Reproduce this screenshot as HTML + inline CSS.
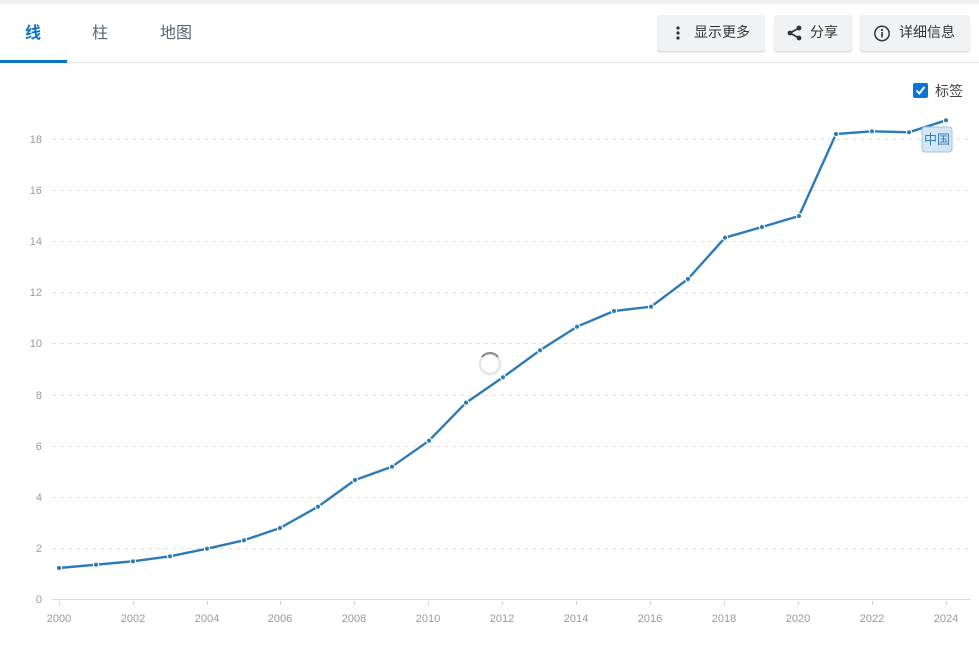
<!DOCTYPE html>
<html><head><meta charset="utf-8">
<style>
html,body{margin:0;padding:0;background:#fff;width:979px;height:658px;overflow:hidden;font-family:"Liberation Sans","Noto Sans CJK SC",sans-serif;}
.top{position:absolute;left:0;top:0;width:979px;height:4px;background:#eef0f3;}
.bar{position:absolute;left:0;top:4px;width:979px;height:58px;border-bottom:1px solid #e3e5e8;}
.tab{position:absolute;top:19px;font-size:16px;color:#5a6672;}
.ul{position:absolute;left:0;top:60px;width:67px;height:3px;background:#0b72c4;}
.btn{position:absolute;top:15px;height:36px;background:#f1f2f4;border-radius:3px;box-shadow:0 1.5px 1px #dcdee2;font-size:14px;color:#333;line-height:35px;}
.btn svg{position:absolute;top:10px;}
.cb{position:absolute;left:913px;top:83px;width:15px;height:15px;background:#0b74d4;border-radius:2px;}
</style></head><body>
<div class="top"></div>
<div class="bar"></div>
<div class="tab" style="left:25px;color:#0b72c4;font-weight:bold;">线</div>
<div class="tab" style="left:92px;">柱</div>
<div class="tab" style="left:160px;">地图</div>
<div class="ul"></div>

<div class="btn" style="left:657px;width:108px;">
<svg style="left:672px;left:15px" width="12" height="16"><circle cx="6" cy="3" r="1.6" fill="#333"/><circle cx="6" cy="8" r="1.6" fill="#333"/><circle cx="6" cy="13" r="1.6" fill="#333"/></svg>
<span style="position:absolute;left:37px;">显示更多</span></div>
<div class="btn" style="left:774px;width:78px;">
<svg style="left:12px" width="18" height="16"><line x1="4" y1="8" x2="13" y2="3" stroke="#333" stroke-width="1.6"/><line x1="4" y1="8" x2="13" y2="13" stroke="#333" stroke-width="1.6"/><circle cx="4" cy="8" r="2.4" fill="#333"/><circle cx="13" cy="3" r="2.4" fill="#333"/><circle cx="13" cy="13" r="2.4" fill="#333"/></svg>
<span style="position:absolute;left:36px;">分享</span></div>
<div class="btn" style="left:860px;width:110px;">
<svg style="left:13px" width="18" height="18"><circle cx="9" cy="8.5" r="7.2" fill="none" stroke="#333" stroke-width="1.5"/><circle cx="9" cy="5" r="1.1" fill="#333"/><rect x="8.2" y="7" width="1.6" height="5.5" fill="#333"/></svg>
<span style="position:absolute;left:39px;">详细信息</span></div>

<div class="cb"><svg width="15" height="15"><polyline points="3.5,7.5 6.3,10.5 11.5,4" fill="none" stroke="#fff" stroke-width="2"/></svg></div>
<div style="position:absolute;left:935px;top:81px;font-size:14px;color:#444;">标签</div>

<svg style="position:absolute;left:0;top:0" width="979" height="658">
<g stroke="#e2e2e2" stroke-width="1" stroke-dasharray="4,4">
<line x1="52" y1="139.5" x2="970" y2="139.5"/>
<line x1="52" y1="190.5" x2="970" y2="190.5"/>
<line x1="52" y1="241.5" x2="970" y2="241.5"/>
<line x1="52" y1="292.5" x2="970" y2="292.5"/>
<line x1="52" y1="343.5" x2="970" y2="343.5"/>
<line x1="52" y1="395.5" x2="970" y2="395.5"/>
<line x1="52" y1="446.5" x2="970" y2="446.5"/>
<line x1="52" y1="497.5" x2="970" y2="497.5"/>
<line x1="52" y1="548.5" x2="970" y2="548.5"/>
</g>
<line x1="52" y1="599.5" x2="970" y2="599.5" stroke="#dcdcdc"/>
<g stroke="#d0d0d0">
<line x1="59.5" y1="601" x2="59.5" y2="605"/><line x1="133.5" y1="601" x2="133.5" y2="605"/><line x1="207.5" y1="601" x2="207.5" y2="605"/><line x1="280.5" y1="601" x2="280.5" y2="605"/><line x1="354.5" y1="601" x2="354.5" y2="605"/><line x1="428.5" y1="601" x2="428.5" y2="605"/><line x1="502.5" y1="601" x2="502.5" y2="605"/><line x1="576.5" y1="601" x2="576.5" y2="605"/><line x1="650.5" y1="601" x2="650.5" y2="605"/><line x1="724.5" y1="601" x2="724.5" y2="605"/><line x1="798.5" y1="601" x2="798.5" y2="605"/><line x1="872.5" y1="601" x2="872.5" y2="605"/><line x1="946.5" y1="601" x2="946.5" y2="605"/>
</g>
<g font-family="Liberation Sans, sans-serif" font-size="11" fill="#9a9a9a" text-anchor="end">
<text x="42" y="143">18</text><text x="42" y="194">16</text><text x="42" y="245">14</text><text x="42" y="296">12</text><text x="42" y="347">10</text><text x="42" y="399">8</text><text x="42" y="450">6</text><text x="42" y="501">4</text><text x="42" y="552">2</text><text x="42" y="603">0</text>
</g>
<g font-family="Liberation Sans, sans-serif" font-size="11" fill="#9a9a9a" text-anchor="middle">
<text x="59" y="622">2000</text><text x="133" y="622">2002</text><text x="207" y="622">2004</text><text x="280" y="622">2006</text><text x="354" y="622">2008</text><text x="428" y="622">2010</text><text x="502" y="622">2012</text><text x="576" y="622">2014</text><text x="650" y="622">2016</text><text x="724" y="622">2018</text><text x="798" y="622">2020</text><text x="872" y="622">2022</text><text x="946" y="622">2024</text>
</g>
<circle cx="490" cy="364" r="10" fill="none" stroke="#e6e6e6" stroke-width="2.5"/>
<path d="M482,357 A10,10 0 0 1 498,357" fill="none" stroke="#888" stroke-width="2"/>
<polyline fill="none" stroke="#2d7bb6" stroke-width="2.4" stroke-linejoin="round" points="59,568 96,564.7 133,561.3 170,556.3 207,548.7 244,540.3 280,528 318,506.7 355,480 392,466.7 429,440.7 466,402.7 503,377.3 540,350.3 577,326.7 614,311 651,306.7 688,279 725,237.7 762,227 799,216 836,134 872,131.3 909,132.3 946,120.3"/>
<g fill="#2d7bb6" stroke="#fff" stroke-width="1">
<circle cx="59" cy="568" r="2.6"/><circle cx="96" cy="564.7" r="2.6"/><circle cx="133" cy="561.3" r="2.6"/><circle cx="170" cy="556.3" r="2.6"/><circle cx="207" cy="548.7" r="2.6"/><circle cx="244" cy="540.3" r="2.6"/><circle cx="280" cy="528" r="2.6"/><circle cx="318" cy="506.7" r="2.6"/><circle cx="355" cy="480" r="2.6"/><circle cx="392" cy="466.7" r="2.6"/><circle cx="429" cy="440.7" r="2.6"/><circle cx="466" cy="402.7" r="2.6"/><circle cx="503" cy="377.3" r="2.6"/><circle cx="540" cy="350.3" r="2.6"/><circle cx="577" cy="326.7" r="2.6"/><circle cx="614" cy="311" r="2.6"/><circle cx="651" cy="306.7" r="2.6"/><circle cx="688" cy="279" r="2.6"/><circle cx="725" cy="237.7" r="2.6"/><circle cx="762" cy="227" r="2.6"/><circle cx="799" cy="216" r="2.6"/><circle cx="836" cy="134" r="2.6"/><circle cx="872" cy="131.3" r="2.6"/><circle cx="909" cy="132.3" r="2.6"/><circle cx="946" cy="120.3" r="2.6"/>
</g>
<rect x="922" y="127" width="30" height="25" rx="3" fill="#d5e5f2" stroke="#9ec4e2" stroke-width="1"/>
<text x="937" y="144" font-family="Liberation Sans, Noto Sans CJK SC, sans-serif" font-size="13" fill="#2f7cb6" text-anchor="middle">中国</text>
</svg>
</body></html>
